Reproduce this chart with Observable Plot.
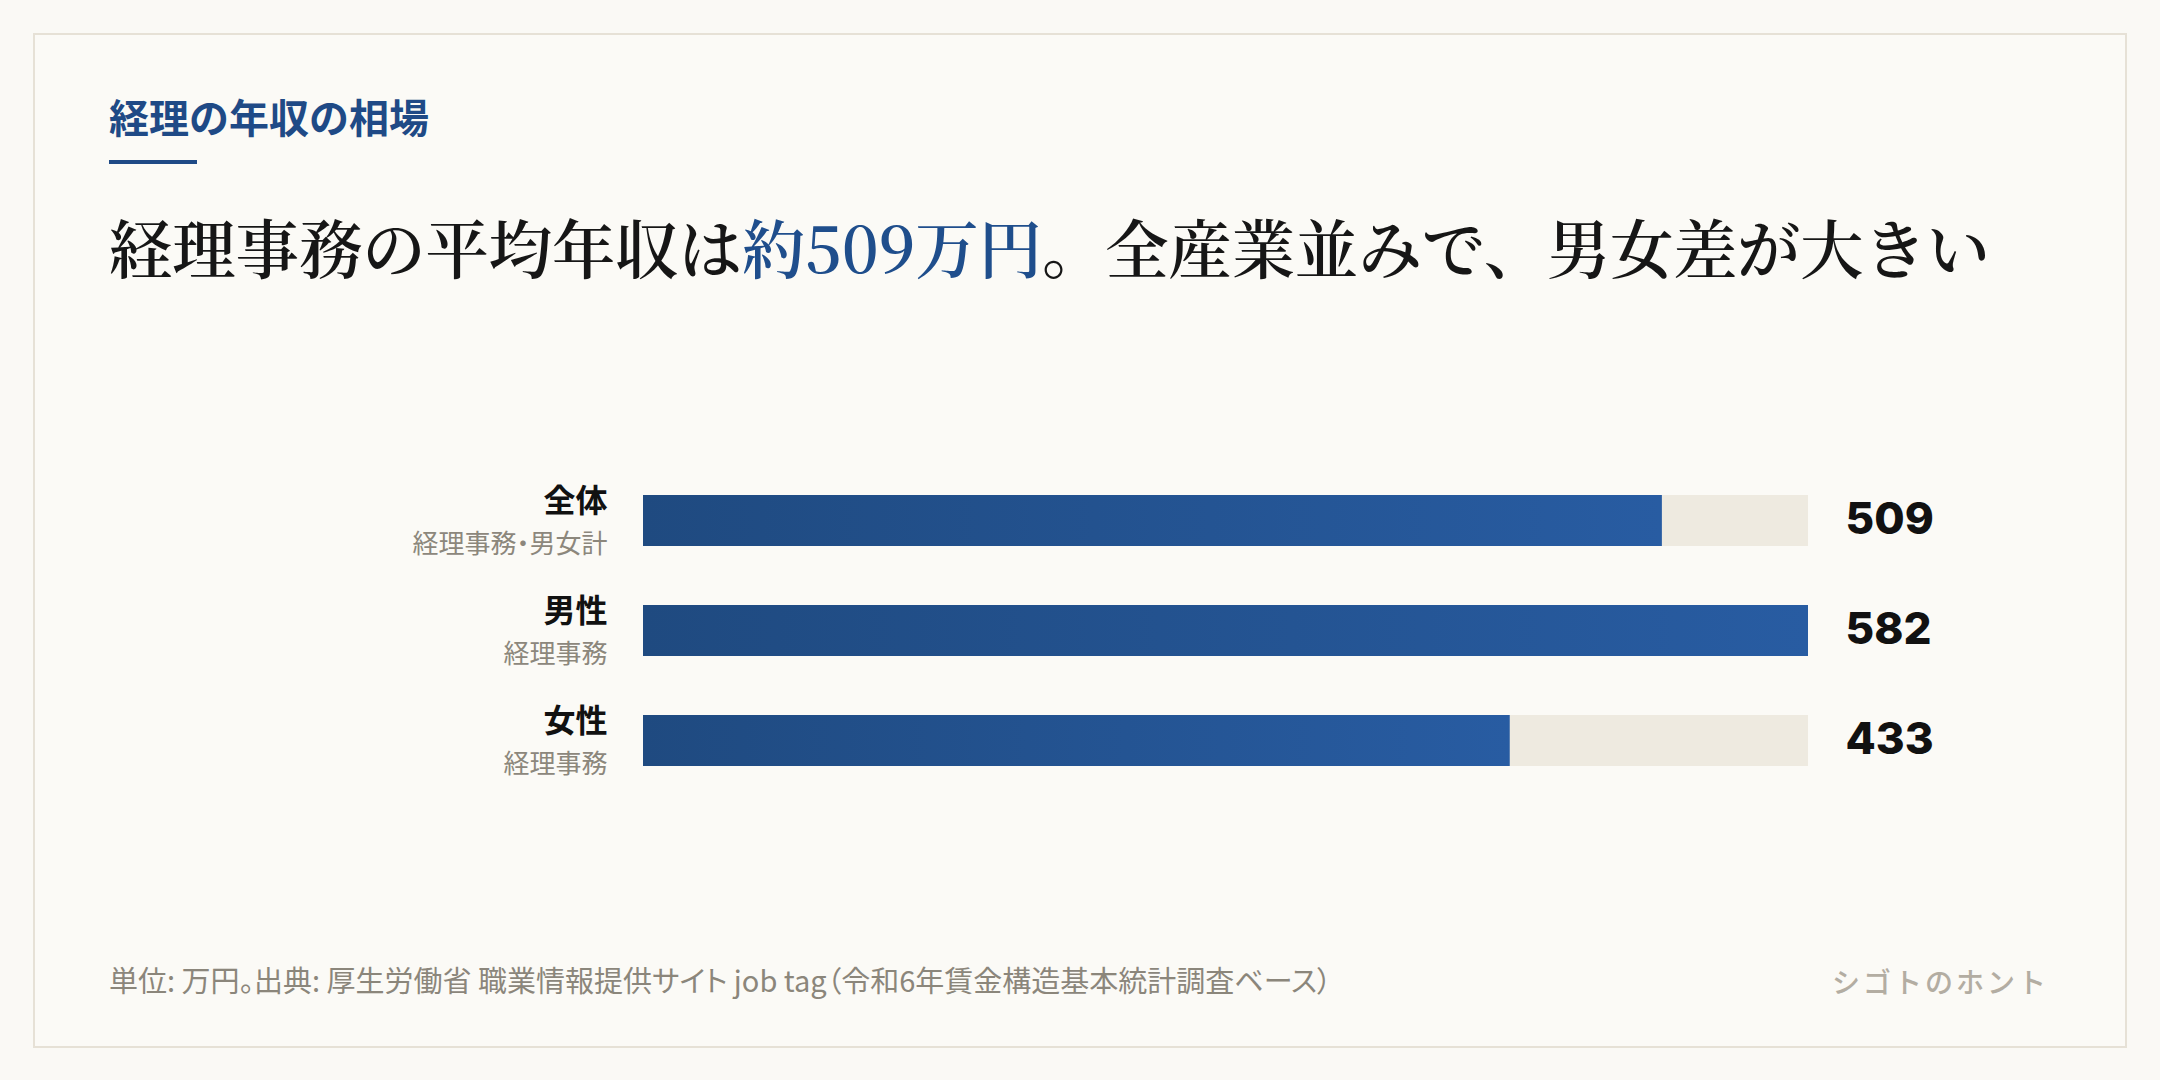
<!DOCTYPE html>
<html lang="ja">
<head>
<meta charset="utf-8">
<script src="https://cdn.jsdelivr.net/npm/d3@7"></script>
<script src="https://cdn.jsdelivr.net/npm/@observablehq/plot@0.6"></script>
<style>
  html, body { margin: 0; padding: 0; background: #faf9f5; }
  #page { position: relative; width: 2160px; height: 1080px; background: #faf9f5; overflow: hidden;
    font-family: "Noto Sans CJK JP", "Noto Sans", sans-serif; }
  #card { position: absolute; left: 33px; top: 33px; width: 2090px; height: 1011px;
    border: 2px solid #e6e1d6; background: #fbfaf6; }
  #kicker { position: absolute; left: 109px; top: 96px; font-size: 40px; line-height: 1; font-weight: 700; color: #1f4a86; white-space: nowrap; }
  #rule { position: absolute; left: 109px; top: 160px; width: 88px; height: 4px; background: #1f4a86; }
  #headline { position: absolute; left: 109px; top: 214px; font-size: 63.3px; line-height: 1; color: #161616; white-space: nowrap;
    font-family: "Noto Serif CJK JP", "Noto Serif JP", "Noto Sans CJK JP", serif; font-weight: 600; }
  #headline .hl { color: #1f4e8c; }
  #chart { position: absolute; left: 0; top: 400px; }
  #chart text { font-feature-settings: "palt"; }
  #source { position: absolute; left: 109px; top: 965px; font-size: 29px; line-height: 1; color: #8b867b; white-space: nowrap;
    font-feature-settings: "palt"; }
  #brand { position: absolute; right: 111px; top: 967px; font-size: 28px; line-height: 1; color: #b3ada2; letter-spacing: 3px; font-weight: 500; white-space: nowrap; }
</style>
</head>
<body>
<div id="page">
  <div id="card"></div>
  <div id="kicker">経理の年収の相場</div>
  <div id="rule"></div>
  <div id="headline">経理事務の平均年収は<span class="hl">約509万円</span>。全産業並みで、男女差が大きい</div>
  <div id="chart"></div>
  <div id="source">単位: 万円。出典: 厚生労働省 職業情報提供サイト job tag（令和6年賃金構造基本統計調査ベース）</div>
  <div id="brand">シゴトのホント</div>
</div>
<script>
// ---- data ----
const categories = ["全体", "男性", "女性"];
const subLabels = ["経理事務・男女計", "経理事務", "経理事務"];
const values = [509, 582, 433];
const trackMax = 582;

const data = categories.map((c, i) => ({ category: c, sub: subLabels[i], value: values[i] }));

const gradientDefs = () => {
  const defs = d3.create("svg:defs");
  const g = defs.append("linearGradient").attr("id", "barGrad").attr("x1", "0").attr("x2", "1").attr("y1", "0").attr("y2", "0");
  g.append("stop").attr("offset", "0%").attr("stop-color", "#1f4a80");
  g.append("stop").attr("offset", "100%").attr("stop-color", "#285ca2");
  return defs.node();
};

const chart = Plot.plot({
  width: 2160,
  height: 447,
  marginLeft: 643,
  marginRight: 352,
  marginTop: 35,
  marginBottom: 20,
  style: { background: "transparent", fontFamily: "'Noto Sans CJK JP', sans-serif" },
  x: { domain: [0, trackMax], axis: null },
  y: { domain: categories, axis: null, padding: 0.532 },
  marks: [
    gradientDefs,
    Plot.barX(data, { x: () => trackMax, y: "category", fill: "#eeeae0" }),
    Plot.barX(data, { x: "value", y: "category", fill: "url(#barGrad)" }),
    Plot.text(data, { x: 0, y: "category", text: "category", textAnchor: "end", dx: -36, dy: -19,
      fontSize: 32, fontWeight: 700, fill: "#111111" }),
    Plot.text(data, { x: 0, y: "category", text: "sub", textAnchor: "end", dx: -36, dy: 24,
      fontSize: 26, fill: "#8c877c" }),
    Plot.text(data, { x: () => trackMax, y: "category", text: d => String(d.value), textAnchor: "start", dx: 37, dy: -1,
      fontSize: 44, fontWeight: 800, fontFamily: "Inter, 'Noto Sans', sans-serif", fill: "#111111" })
  ]
});
document.getElementById("chart").appendChild(chart);
</script>
</body>
</html>
